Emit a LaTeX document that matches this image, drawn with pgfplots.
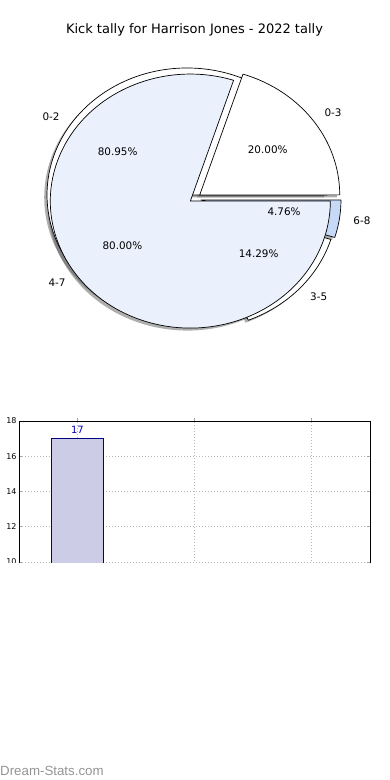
\documentclass[border=0pt]{standalone}
\usepackage{pgfplots}
\pgfplotsset{compat=1.18}
\usepackage{fontspec}
\setmainfont{DejaVu Sans}
\newfontfamily\wmfont{Liberation Sans}
\definecolor{pieA}{RGB}{234,241,253}
\definecolor{pieB}{RGB}{198,217,247}
\definecolor{barfill}{RGB}{204,204,230}
\definecolor{baredge}{RGB}{0,0,128}
\definecolor{lblblue}{RGB}{0,0,180}
\tikzset{lbl/.style={font=\fontsize{10.4}{12}\selectfont, inner sep=0pt}}

% #1 cx, #2 cy (pixels, y down), #3 start percent, #4 percent, #5 explode, #6 fill
\newcommand\piewedge[6]{%
 \pgfmathsetmacro\aA{3.6*#3}%
 \pgfmathsetmacro\aB{3.6*(#3+#4)}%
 \pgfmathsetmacro\aM{(\aA+\aB)/2}%
 \pgfmathsetmacro\cx{#1+#5*140*cos(\aM)}%
 \pgfmathsetmacro\cy{-#2+#5*127*sin(\aM)}%
 \edef\tmp{\noexpand\filldraw[fill=#6,draw=black,line width=0.7pt,line join=round] (axis cs:\cx,\cy) -- ++(\aA:140pt and 127pt) arc[start angle=\aA,end angle=\aB,x radius=140pt,y radius=127pt] -- cycle;}%
 \tmp}
\newcommand\pieshadow[5]{%
 \pgfmathsetmacro\aA{3.6*#3}%
 \pgfmathsetmacro\aB{3.6*(#3+#4)}%
 \pgfmathsetmacro\aM{(\aA+\aB)/2}%
 \pgfmathsetmacro\cx{#1+#5*140*cos(\aM)-2.8}%
 \pgfmathsetmacro\cy{-#2+#5*127*sin(\aM)-2.5}%
 \edef\tmp{\noexpand\fill[black!70,opacity=0.45] (axis cs:\cx,\cy) -- ++(\aA:140pt and 127pt) arc[start angle=\aA,end angle=\aB,x radius=140pt,y radius=127pt] -- cycle;}%
 \tmp}
% #6 label, #7 anchor, #8 percentage text
\newcommand\pielabel[8]{%
 \pgfmathsetmacro\aA{3.6*#3}%
 \pgfmathsetmacro\aB{3.6*(#3+#4)}%
 \pgfmathsetmacro\aM{(\aA+\aB)/2}%
 \pgfmathsetmacro\cx{#1+#5*140*cos(\aM)}%
 \pgfmathsetmacro\cy{-#2+#5*127*sin(\aM)}%
 \pgfmathsetmacro\lx{\cx+1.1*140*cos(\aM)}%
 \pgfmathsetmacro\ly{\cy+1.1*127*sin(\aM)}%
 \pgfmathsetmacro\px{\cx+0.6*140*cos(\aM)}%
 \pgfmathsetmacro\py{\cy+0.6*127*sin(\aM)}%
 \edef\tmp{\noexpand\node[lbl,anchor=#7] at (axis cs:\lx,\ly) {\unexpanded{#6}}; \noexpand\node[lbl] at (axis cs:\px,\py) {\unexpanded{#8}};}%
 \tmp}

\begin{document}
\begin{tikzpicture}
\useasboundingbox (0,0) rectangle (390pt,780pt);
\node[font=\fontsize{13}{15}\selectfont] at (194.5pt,750pt) {Kick tally for Harrison Jones - 2022 tally};

% Pie chart
\begin{axis}[at={(0pt,780pt)}, anchor=north west, scale only axis,
  width=390pt, height=390pt, xmin=0, xmax=390, ymin=-390, ymax=0,
  hide axis, clip=false]
% shadows (pie B: 0-2, 3-5, 6-8 ; pie A: 0-3, 4-7)
\pieshadow{193.5}{199}{0}{80.952}{0.056}
\pieshadow{193.5}{199}{80.952}{14.286}{0.035}
\pieshadow{193.5}{199}{95.238}{4.762}{0.054}
\pieshadow{193.5}{199}{0}{20}{0.055}
\pieshadow{193.5}{199}{20}{80}{0.028}
% wedges
\piewedge{193.5}{199}{0}{80.952}{0.056}{white}
\piewedge{193.5}{199}{80.952}{14.286}{0.035}{white}
\piewedge{193.5}{199}{95.238}{4.762}{0.054}{pieB}
\piewedge{193.5}{199}{0}{20}{0.055}{white}
\piewedge{193.5}{199}{20}{80}{0.028}{pieA}
% labels
\pielabel{193.5}{199}{0}{80.952}{0.056}{0-2}{east}{80.95\%}
\pielabel{193.5}{199}{80.952}{14.286}{0.035}{3-5}{west}{14.29\%}
\pielabel{193.5}{199}{95.238}{4.762}{0.054}{6-8}{west}{4.76\%}
\pielabel{193.5}{199}{0}{20}{0.055}{0-3}{west}{20.00\%}
\pielabel{193.5}{199}{20}{80}{0.028}{4-7}{east}{80.00\%}
\end{axis}

% Bar chart (cut off at the bottom)
\begin{scope}
\clip (0pt,217.5pt) rectangle (390pt,780pt);
\begin{axis}[at={(19pt,359pt)}, anchor=north west, scale only axis,
  width=351pt, height=317.25pt,
  xmin=-0.5, xmax=2.5, ymin=0, ymax=18, enlargelimits=false,
  xtick={0,1,2}, xticklabels={0-2,3-5,6-8},
  ytick={0,2,...,18},
  /pgf/number format/assume math mode=true,
  ticklabel style={font=\fontsize{8}{9}\selectfont},
  yticklabel style={xshift=1pt},
  grid=major, grid style={gray!55, line width=0.8pt, dash pattern=on 1pt off 2pt},
  tick align=inside, major tick length=3pt, tick style={gray!70, line width=0.8pt},
  axis line style={black, line width=0.9pt},
  ybar, bar width=52pt,
  nodes near coords,
  every node near coord/.append style={text=lblblue, font=\fontsize{10}{11}\selectfont, yshift=1pt}]
\addplot[fill=barfill, draw=baredge, line width=0.8pt] coordinates {(0,17) (1,3) (2,1)};
\end{axis}
\end{scope}

\node[anchor=base west, inner sep=0pt, text=black!42, font=\wmfont\fontsize{13.3}{15}\selectfont] at (0pt,5pt) {Dream-Stats.com};
\end{tikzpicture}
\end{document}
